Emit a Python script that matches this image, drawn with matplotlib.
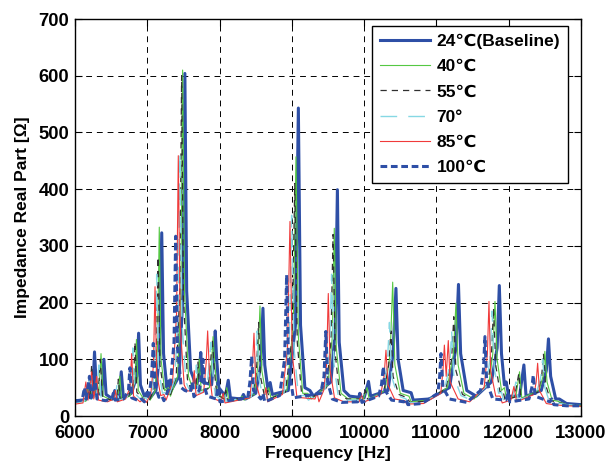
import matplotlib
matplotlib.use("Agg")
import matplotlib.pyplot as plt

plt.rcParams['font.family'] = ['Liberation Sans', 'DejaVu Sans']
plt.rcParams['font.weight'] = 'bold'

labels = ['24\u2103(Baseline)', '40\u2103', '55\u2103', '70\u00b0', '85\u2103', '100\u2103']

s24 = [(6000,27),(6100,28),(6160,30),(6185,55),(6210,32),(6245,40),(6270,113),(6300,40),(6370,38),(6400,100),(6430,38),
       (6520,30),(6550,45),(6575,30),(6610,32),(6640,78),(6670,32),(6780,40),(6855,70),(6880,146),(6905,55),(6960,35),
       (7000,42),(7040,32),(7120,45),(7170,110),(7200,323),(7225,110),(7270,50),(7300,62),(7330,45),(7440,70),(7495,220),
       (7520,604),(7545,220),(7600,80),(7630,70),(7680,50),(7720,80),(7740,112),(7760,60),(7890,55),(7920,100),(7940,150),
       (7960,100),(7990,50),(8080,35),(8120,63),(8150,32),(8300,30),(8330,38),(8360,30),(8500,40),(8570,90),(8600,190),
       (8625,90),(8670,45),(8700,59),(8730,38),(8950,45),(9050,160),(9090,543),(9120,160),(9180,50),(9250,45),(9300,35),
       (9540,60),(9600,150),(9630,399),(9655,130),(9720,45),(9800,35),(10000,32),(10060,61),(10090,35),(10330,45),
       (10400,110),(10440,225),(10470,100),(10540,45),(10650,41),(10680,28),(10900,30),(11180,50),(11270,120),(11305,232),
       (11335,110),(11420,45),(11550,35),(11760,60),(11840,120),(11870,230),(11900,110),(11940,55),(11965,60),(12000,35),
       (12150,35),(12210,90),(12240,35),(12450,45),(12520,80),(12550,136),(12580,70),(12650,30),(12700,30),(12800,22),
       (13000,20)]

s40 = [(6000,24),(6150,26),(6200,60),(6230,30),(6260,35),(6300,60),(6330,40),(6360,110),(6390,35),(6500,28),(6600,40),
       (6620,70),(6645,30),(6760,35),(6830,60),(6850,135),(6875,45),(6950,30),(7000,36),(7040,28),(7110,45),(7140,120),
       (7166,333),(7190,100),(7240,45),(7290,50),(7320,35),(7420,70),(7465,220),(7489,610),(7515,220),(7570,70),(7610,55),
       (7690,55),(7720,100),(7745,45),(7860,50),(7890,95),(7910,140),(7935,90),(7970,40),(8070,30),(8100,50),(8125,28),
       (8280,28),(8310,35),(8340,28),(8480,38),(8530,90),(8559,194),(8585,80),(8640,38),(8680,50),(8710,32),(8930,45),
       (9020,160),(9057,457),(9090,140),(9150,40),(9220,40),(9270,30),(9500,55),(9560,140),(9587,331),(9615,120),
       (9680,40),(9780,30),(9990,30),(10040,50),(10070,30),(10290,45),(10360,110),(10395,236),(10425,90),(10500,40),
       (10620,35),(10650,25),(10880,28),(11150,50),(11235,110),(11270,199),(11300,90),(11380,40),(11520,30),(11730,60),
       (11780,110),(11810,202),(11840,100),(11900,45),(11940,50),(11970,30),(12100,35),(12150,78),(12180,32),(12420,45),
       (12475,70),(12500,114),(12530,60),(12600,28),(12680,26),(12800,20),(13000,19)]

s55 = [(6000,25),(6140,27),(6180,45),(6205,30),(6230,90),(6260,32),(6320,38),(6350,100),(6380,35),(6490,28),(6580,35),
       (6600,65),(6625,30),(6740,35),(6810,60),(6830,130),(6855,42),(6940,30),(6990,35),(7030,28),(7090,45),(7125,110),
       (7150,280),(7175,90),(7230,42),(7275,45),(7310,33),(7400,70),(7450,220),(7475,600),(7500,210),(7555,65),(7595,50),
       (7670,50),(7700,95),(7725,42),(7840,48),(7875,95),(7900,135),(7925,85),(7960,38),(8060,30),(8085,45),(8110,27),
       (8460,36),(8510,80),(8540,165),(8565,70),(8620,36),(8660,45),(8690,30),(8910,42),(9005,140),(9040,410),(9075,130),
       (9135,38),(9200,38),(9250,30),(9480,50),(9540,130),(9570,320),(9600,110),(9660,38),(9760,30),(9970,30),(10020,45),
       (10050,28),(10270,42),(10340,90),(10370,150),(10400,70),(10480,38),(10600,32),(10630,24),(10860,26),(11130,48),
       (11210,100),(11240,175),(11270,80),(11360,38),(11500,30),(11710,55),(11760,105),(11790,190),(11820,90),(11880,42),
       (11920,45),(11950,28),(12080,33),(12140,75),(12170,30),(12400,42),(12455,68),(12480,110),(12510,55),(12580,27),
       (12660,25),(12800,20),(13000,19)]

s70 = [(6000,24),(6130,26),(6170,40),(6200,70),(6225,30),(6300,36),(6330,90),(6360,33),(6470,27),(6560,33),(6580,55),
       (6605,28),(6720,33),(6780,55),(6800,120),(6825,40),(6920,28),(6970,33),(7010,27),(7070,42),(7105,100),(7130,250),
       (7155,85),(7210,40),(7255,42),(7290,32),(7380,65),(7428,190),(7452,464),(7478,170),(7535,60),(7575,48),(7650,48),
       (7680,90),(7705,40),(7820,45),(7855,90),(7880,130),(7905,80),(7940,36),(8040,28),(8065,42),(8090,26),(8440,34),
       (8490,75),(8520,150),(8545,65),(8600,34),(8640,42),(8670,28),(8890,40),(8965,130),(8997,354),(9030,120),(9090,36),
       (9180,36),(9230,28),(9460,48),(9520,110),(9550,250),(9580,95),(9640,36),(9740,28),(9950,28),(10000,40),(10030,27),
       (10250,40),(10320,90),(10350,165),(10380,70),(10460,36),(10580,30),(10610,23),(10840,25),(11110,45),(11185,90),
       (11210,150),(11240,70),(11340,36),(11480,28),(11690,52),(11740,100),(11770,185),(11800,85),(11860,40),(11900,42),
       (11930,27),(12050,32),(12100,60),(12130,28),(12380,40),(12440,65),(12470,100),(12500,50),(12560,26),(12640,24),
       (12800,20),(13000,19)]

s85 = [(6000,21),(6110,23),(6150,60),(6180,28),(6230,78),(6260,30),(6300,70),(6325,28),(6450,25),(6540,30),(6560,45),
       (6585,25),(6700,30),(6760,50),(6784,110),(6810,35),(6900,25),(6950,30),(6990,24),(7050,40),(7085,90),(7107,228),
       (7130,75),(7185,36),(7230,38),(7260,28),(7350,60),(7405,180),(7429,459),(7455,160),(7510,55),(7550,44),(7620,45),
       (7650,80),(7675,36),(7780,42),(7815,95),(7835,150),(7860,75),(7900,32),(8020,25),(8050,40),(8075,23),(8420,32),
       (8450,75),(8476,146),(8500,60),(8560,32),(8620,35),(8640,50),(8665,25),(8870,38),(8940,120),(8974,343),(9005,110),
       (9070,33),(9320,30),(9350,40),(9375,25),(9440,45),(9480,90),(9504,216),(9530,80),(9590,32),(9720,25),(9930,25),
       (9960,40),(9990,24),(10230,38),(10275,70),(10302,116),(10330,55),(10420,30),(10560,27),(10590,21),(10820,22),
       (11060,40),(11090,80),(11110,125),(11135,70),(11164,133),(11190,60),(11300,30),(11460,25),(11660,50),(11705,110),
       (11727,202),(11750,80),(11820,35),(11880,35),(11910,23),(12030,28),(12072,52),(12110,25),(12350,38),(12380,60),
       (12400,93),(12425,45),(12520,22),(12620,20),(12800,18),(13000,17)]

s100 = [(6000,26),(6100,28),(6130,50),(6155,30),(6200,70),(6225,32),(6280,60),(6305,30),(6420,27),(6510,30),(6530,40),
        (6555,28),(6670,30),(6740,45),(6760,85),(6785,32),(6880,27),(6920,30),(6960,25),(7030,40),(7060,70),(7083,128),
        (7105,55),(7160,33),(7200,36),(7230,27),(7320,55),(7370,130),(7393,317),(7418,120),(7470,50),(7520,45),(7595,42),
        (7620,60),(7645,34),(7720,45),(7750,70),(7770,100),(7795,50),(7830,35),(7955,30),(7980,60),(8005,25),(8390,32),
        (8420,60),(8444,105),(8470,45),(8570,30),(8600,40),(8625,25),(8830,36),(8900,100),(8928,249),(8955,90),(9020,32),
        (9400,40),(9445,70),(9470,149),(9495,60),(9560,30),(9690,24),(9910,25),(9940,40),(9970,24),(10200,35),(10240,55),
        (10265,87),(10290,45),(10380,28),(10550,25),(10580,30),(10605,20),(10800,22),(11020,40),(11045,70),(11063,110),
        (11090,50),(11180,30),(11420,24),(11610,45),(11650,80),(11671,140),(11695,60),(11780,30),(11960,28),(11990,40),
        (12015,25),(12280,30),(12320,50),(12340,72),(12365,35),(12570,25),(12600,30),(12625,20),(12800,18),(13000,18)]

xticks = list(range(6000, 13001, 1000))
yticks = list(range(0, 701, 100))

series = [s24, s40, s55, s70, s85, s100]
styles = [
    dict(color='#2E4FA6', lw=2.2, ls='-'),
    dict(color='#55C843', lw=0.8, ls='-'),
    dict(color='#303030', lw=0.9, ls=(0, (5, 4))),
    dict(color='#86D8E4', lw=1.0, ls=(0, (12, 8))),
    dict(color='#F03A3A', lw=0.8, ls='-'),
    dict(color='#2E4FA6', lw=2.2, ls=(0, (2.2, 1.2))),
]

fig = plt.figure(figsize=(6.11, 4.65), dpi=100)
ax = fig.add_axes([75/611, 49/465, 506/611, 397/465])

for s, st, lab in zip(series, styles, labels):
    f = [p[0] for p in s]
    v = [p[1] for p in s]
    ax.plot(f, v, label=lab, **st)

ax.set_xlim(6000, 13000)
ax.set_ylim(0, 700)
ax.set_xticks(xticks)
ax.set_yticks(yticks)
ax.tick_params(direction='in', top=True, right=True, length=5, width=0.8, labelsize=13.3)
ax.tick_params(axis='x', pad=6.5)
ax.tick_params(axis='y', pad=4)
for lab in ax.get_xticklabels() + ax.get_yticklabels():
    lab.set_fontweight('bold')
ax.grid(True, color='black', lw=0.7, ls=(0, (6, 5)))
for sp in ax.spines.values():
    sp.set_linewidth(1.0)

ax.set_xlabel('Frequency [Hz]', fontsize=12.5, fontweight='bold', labelpad=3)
ax.set_ylabel('Impedance Real Part [\u03a9]', fontsize=12.5, fontweight='bold', labelpad=6)

leg = ax.legend(loc='upper right', bbox_to_anchor=(0.9743, 0.9824), fancybox=False, framealpha=1,
                edgecolor='black', fontsize=12.5, handlelength=2.9, handletextpad=0.35,
                labelspacing=0.58, borderpad=0.45, borderaxespad=0)
leg.get_frame().set_linewidth(1.0)
for t in leg.get_texts():
    t.set_fontweight('bold')

fig.savefig('out.png', dpi=100)
